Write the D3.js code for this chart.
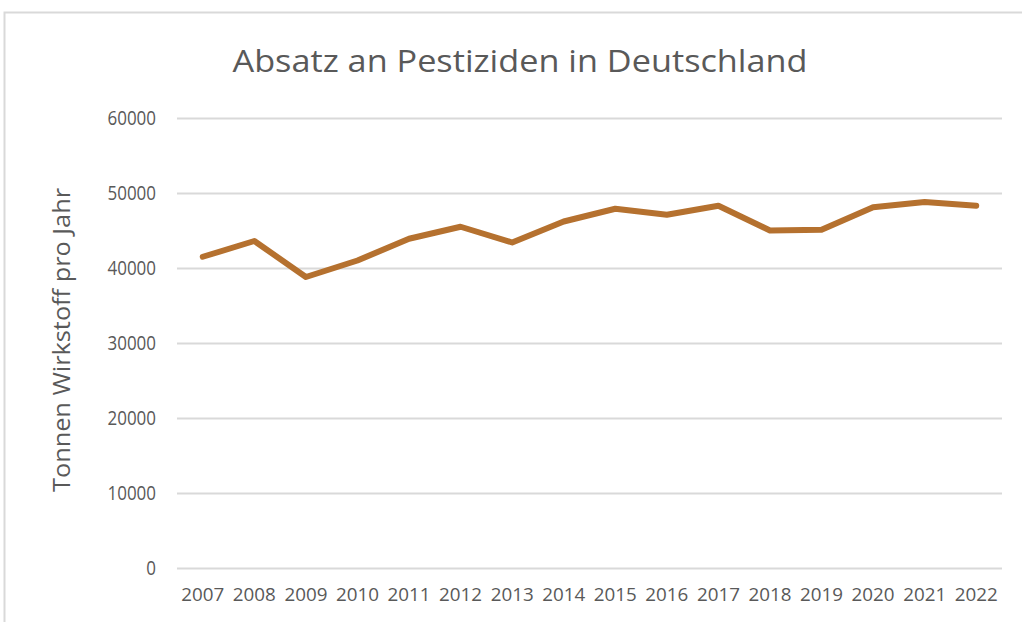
<!DOCTYPE html>
<html>
<head>
<meta charset="utf-8">
<script src="https://cdn.jsdelivr.net/npm/d3@7"></script>
<style>
	body { margin: 0; background: #fff; }
	svg { display: block; font-family: 'Open Sans', sans-serif; }
	.axis .domain { display: none; }
	.y.axis .tick line { stroke: #d9d9d9; stroke-width: 2; }
	.axis text { fill: #595959; font-family: 'Open Sans', sans-serif; }
</style>
</head>
<body>
<div id="chart"></div>
<script>
// data
var years = ['2007', '2008', '2009', '2010', '2011', '2012', '2013', '2014',
	'2015', '2016', '2017', '2018', '2019', '2020', '2021', '2022'];
var tonnes = [41500, 43600, 38800, 41000, 43900, 45500, 43400, 46200,
	47900, 47100, 48300, 45000, 45100, 48100, 48800, 48300];
var yTicks = [0, 10000, 20000, 30000, 40000, 50000, 60000];

var chartTitle = 'Absatz an Pestiziden in Deutschland';
var yAxisLabel = 'Tonnen Wirkstoff pro Jahr';

var width = 1022;
var height = 622;
var margin = { top: 118, right: 20, bottom: 54, left: 177 };
var plotW = 1002 - margin.left;
var plotH = 568 - margin.top;

var svg = d3.select('#chart').append('svg')
	.attr('width', width)
	.attr('height', height);

// outer frame (only top and left edges visible)
svg.append('path')
	.attr('d', 'M4.5,' + height + 'V12.5H' + width)
	.attr('fill', 'none')
	.attr('stroke', '#d9d9d9')
	.attr('stroke-width', 2);

var g = svg.append('g')
	.attr('transform', 'translate(' + margin.left + ',' + margin.top + ')');

var x = d3.scaleBand()
	.domain(years)
	.range([0, plotW]);

var y = d3.scaleLinear()
	.domain([0, 60000])
	.range([plotH, 0]);

// y axis with gridlines
g.append('g')
	.attr('class', 'y axis')
	.call(d3.axisLeft(y).tickValues(yTicks).tickSize(-plotW).tickPadding(21).tickFormat(d3.format('d')))
	.selectAll('text')
	.style('font-size', '19.5px')
	.attr('textLength', function(d) { return String(d).length * 9.7; })
	.attr('lengthAdjust', 'spacingAndGlyphs');

// x axis
g.append('g')
	.attr('class', 'x axis')
	.attr('transform', 'translate(0,' + plotH + ')')
	.call(d3.axisBottom(x).tickSize(0).tickPadding(20))
	.selectAll('text')
	.style('font-size', '19px')
	.attr('textLength', 43)
	.attr('lengthAdjust', 'spacingAndGlyphs');

// line
var line = d3.line()
	.x(function(d, i) { return x(years[i]) + x.bandwidth() / 2; })
	.y(function(d) { return y(d); });

g.append('path')
	.datum(tonnes)
	.attr('d', line)
	.attr('fill', 'none')
	.attr('stroke', '#b5712f')
	.attr('stroke-width', 6)
	.attr('stroke-linecap', 'round')
	.attr('stroke-linejoin', 'round');

// title
svg.append('text')
	.attr('x', 520)
	.attr('y', 72)
	.attr('text-anchor', 'middle')
	.attr('textLength', 575)
	.attr('lengthAdjust', 'spacingAndGlyphs')
	.style('font-size', '31px')
	.style('fill', '#595959')
	.text(chartTitle);

// y axis label
svg.append('text')
	.attr('transform', 'translate(70,' + (margin.top + plotH / 2 - 3) + ') rotate(-90)')
	.attr('text-anchor', 'middle')
	.attr('textLength', 304)
	.attr('lengthAdjust', 'spacingAndGlyphs')
	.style('font-size', '23px')
	.style('fill', '#595959')
	.text(yAxisLabel);
</script>
</body>
</html>
